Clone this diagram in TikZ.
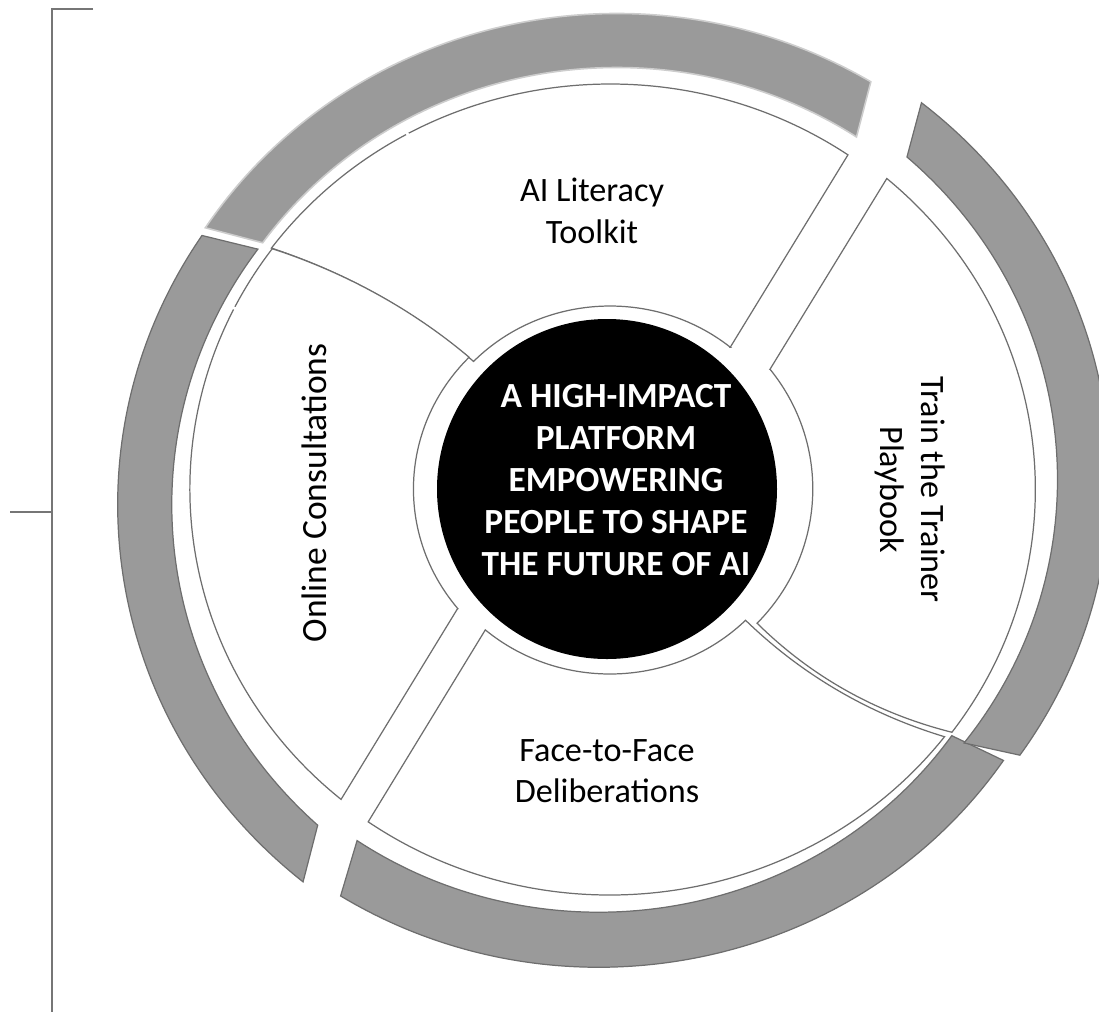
\documentclass[tikz,border=0pt]{standalone}
\usepackage{fontspec}
\setmainfont{Carlito}
\usepackage{tikz}
\usetikzlibrary{arrows,backgrounds}
\definecolor{outline}{HTML}{6E6E6E}
\definecolor{bandfill}{HTML}{9A9A9A}
\definecolor{bandedge}{HTML}{CDCDCD}
\definecolor{bracketgrey}{HTML}{767676}
\tikzstyle{segment}=[fill=white, draw=outline, line width=0.7pt]
\tikzstyle{band}=[fill=bandfill, draw=outline, line width=0.7pt]
\tikzstyle{lightband}=[fill=bandfill, draw=bandedge, line width=0.9pt]
\tikzstyle{bracket}=[draw=bracketgrey, line width=1.1pt]
\tikzstyle{itemtext}=[inner sep=0pt, align=center, font=\fontsize{19.45pt}{23.6pt}\selectfont]
\tikzstyle{hubtext}=[inner sep=0pt, align=center, text=white, font=\bfseries\fontsize{20.1pt}{23.8pt}\selectfont]
\newcommand{\greyband}[8]{
	\begin{scope}[shift={#2}]
	\draw[#1] (#3:#7) arc[start angle=#3, end angle=#4, radius=#7] -- (#5:#8) arc[start angle=#5, end angle=#6, radius=#8] -- cycle;
	\end{scope}
}

\begin{document}
\begin{tikzpicture}[x=0.02cm, y=0.02cm]
	\useasboundingbox (0,0) rectangle (1099,-1012);
	\draw[bracket] (93,-9) -- (52,-9) -- (52,-1012);
	\draw[bracket] (10,-512) -- (52,-512);
	\begin{scope}[shift={(610,-489)}, xscale=1.04]
		\greyband{band}{(14.6,-15.8)}{146.5}{230.6}{227.3}{144.1}{488}{436}
		\greyband{lightband}{(6.3,3.5)}{58.8}{146.9}{144.5}{56.5}{472}{418}
		\greyband{band}{(-10.5,-9.2)}{238}{326}{325}{235.8}{469}{414}
		\greyband{band}{(-1.2,9.6)}{51.4}{-34.9}{-37.65}{48.35}{482}{431.5}
		\draw[segment] (50.8:183) -- (55.6:405) arc[start angle=55.6, end angle=143.5, radius=405] .. controls (-253.3,216.1) and (-188.5,178.4) .. (135.8:183) arc[start angle=135.8, end angle=50.8, radius=183] -- cycle;
		\draw[segment] (219.2:189) -- (230.2:404) arc[start angle=230.2, end angle=143.5, radius=404] .. controls (-253.3,216.1) and (-188.5,178.4) .. (135.8:189) arc[start angle=135.8, end angle=219.2, radius=189] -- cycle;
		\draw[segment] (229.6:185) -- (235.06:406) arc[start angle=235.06, end angle=322.4, radius=406] .. controls (248.4,-224.6) and (184.6,-185.8) .. (314.8:185) arc[start angle=314.8, end angle=229.6, radius=185] -- cycle;
		\draw[segment] (37.9:195) -- (49.4:409) arc[start angle=49.4, end angle=-36.5, radius=409] .. controls (256.2,-224.2) and (193.8,-187.9) .. (-43.5:195) arc[start angle=-43.5, end angle=37.9, radius=195] -- cycle;
		\draw[white, line width=1.6pt] (118.75:398) -- (118.75:411);
		\draw[white, line width=1.6pt] (153.4:398) -- (153.4:411);
	\end{scope}
	\fill (607,-489) circle[radius=170];
	\node[hubtext] (hub) at (616,-480) {A HIGH-IMPACT\\PLATFORM\\EMPOWERING\\PEOPLE TO SHAPE\\THE FUTURE OF AI};
	\node[itemtext] (toolkit) at (592,-211) {AI Literacy\\Toolkit};
	\node[itemtext, rotate=-90] (playbook) at (910,-489.5) {Train the Trainer\\Playbook};
	\node[itemtext] (deliberations) at (607,-771) {Face-to-Face\\Deliberations};
	\node[itemtext, rotate=90, font=\fontsize{20.2pt}{24pt}\selectfont] (consultations) at (314.7,-493) {Online Consultations};
\end{tikzpicture}
\end{document}
